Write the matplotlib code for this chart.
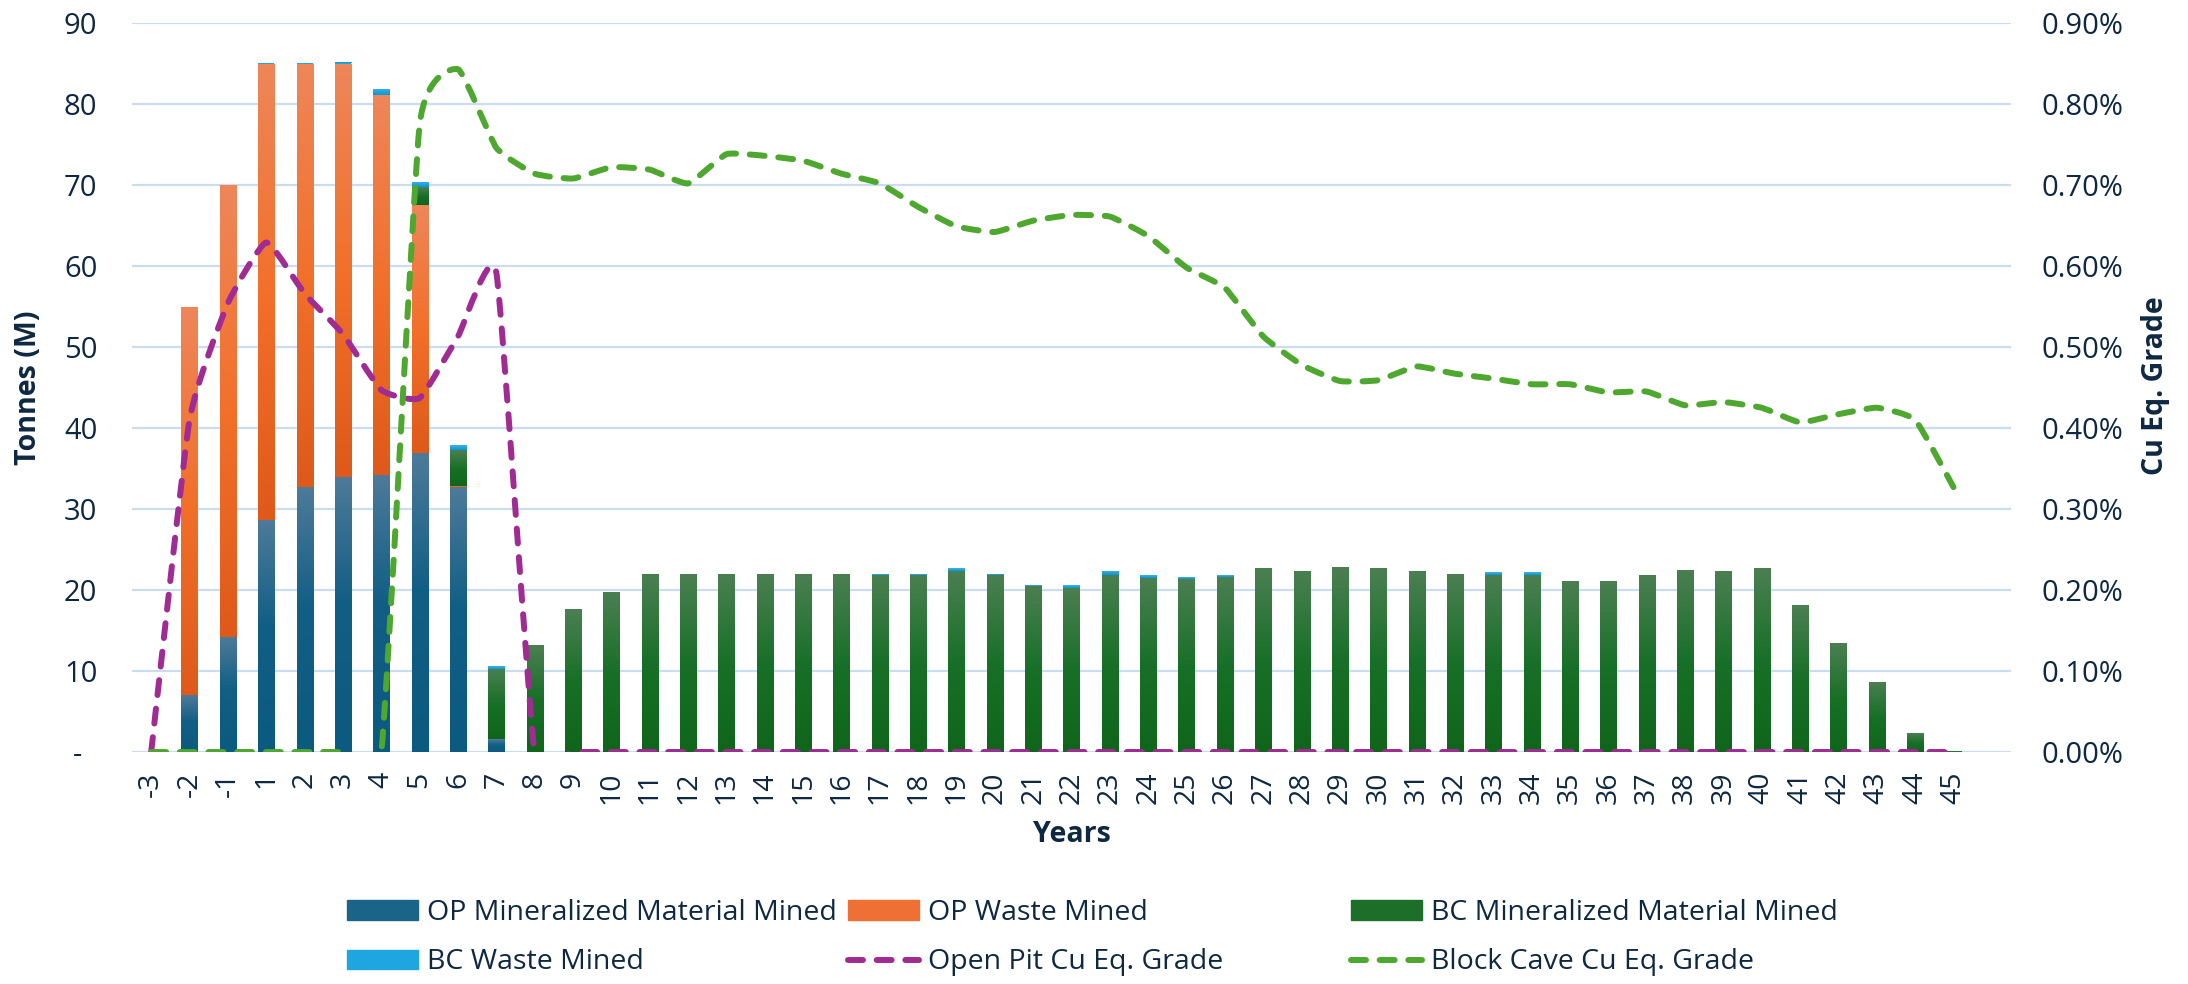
import numpy as np
import matplotlib
matplotlib.use("Agg")
import matplotlib.pyplot as plt
from matplotlib.colors import LinearSegmentedColormap
from matplotlib.path import Path
from matplotlib.patches import PathPatch, Patch
from matplotlib.lines import Line2D

plt.rcParams['font.family'] = ['Open Sans', 'DejaVu Sans']

years = [-3, -2, -1, 1, 2, 3, 4, 5, 6, 7, 8, 9, 10, 11, 12, 13, 14, 15, 16,
         17, 18, 19, 20, 21, 22, 23, 24, 25, 26, 27, 28, 29, 30, 31, 32, 33,
         34, 35, 36, 37, 38, 39, 40, 41, 42, 43, 44, 45]

# tonnes (M)
op_min = [0, 7.0, 14.2, 28.6, 32.7, 34.0, 34.2, 36.9, 32.7, 1.6,
          0, 0, 0, 0, 0, 0, 0, 0, 0, 0,
          0, 0, 0, 0, 0, 0, 0, 0, 0, 0,
          0, 0, 0, 0, 0, 0, 0, 0, 0, 0,
          0, 0, 0, 0, 0, 0, 0, 0]
op_waste = [0, 48.0, 55.8, 56.3, 52.2, 51.0, 46.9, 30.6, 0.2, 0,
            0, 0, 0, 0, 0, 0, 0, 0, 0, 0,
            0, 0, 0, 0, 0, 0, 0, 0, 0, 0,
            0, 0, 0, 0, 0, 0, 0, 0, 0, 0,
            0, 0, 0, 0, 0, 0, 0, 0]
bc_min = [0, 0, 0, 0, 0, 0, 0, 2.2, 4.4, 8.7,
          13.2, 17.6, 19.8, 22.0, 22.0, 22.0, 22.0, 22.0, 22.0, 21.9,
          21.9, 22.4, 21.8, 20.5, 20.3, 21.9, 21.5, 21.4, 21.6, 22.7,
          22.4, 22.8, 22.7, 22.3, 22.0, 21.9, 21.9, 21.1, 21.1, 21.8,
          22.5, 22.3, 22.7, 18.1, 13.4, 8.7, 2.3, 0.1]
bc_waste = [0, 0, 0, 0.1, 0.1, 0.2, 0.8, 0.7, 0.6, 0.3,
            0, 0, 0, 0, 0, 0, 0, 0, 0, 0.1,
            0.1, 0.3, 0.2, 0.1, 0.3, 0.5, 0.3, 0.2, 0.2, 0,
            0, 0, 0, 0, 0, 0.3, 0.3, 0, 0, 0,
            0, 0, 0, 0, 0, 0, 0, 0]

# Cu eq. grade (%)
op_grade = [0, 0.41, 0.554, 0.629, 0.566, 0.516, 0.447, 0.437, 0.513, 0.592,
            0, 0, 0, 0, 0, 0, 0, 0, 0, 0,
            0, 0, 0, 0, 0, 0, 0, 0, 0, 0,
            0, 0, 0, 0, 0, 0, 0, 0, 0, 0,
            0, 0, 0, 0, 0, 0, 0, 0]
bc_grade = [0, 0, 0, 0, 0, 0, 0, 0.774, 0.843, 0.746,
            0.714, 0.708, 0.722, 0.719, 0.702, 0.738, 0.736, 0.730, 0.714, 0.702,
            0.673, 0.649, 0.642, 0.656, 0.663, 0.661, 0.637, 0.598, 0.573, 0.513,
            0.478, 0.458, 0.459, 0.476, 0.467, 0.461, 0.454, 0.454, 0.444, 0.445,
            0.428, 0.432, 0.425, 0.407, 0.417, 0.425, 0.410, 0.327]

TXT = '#0e2841'
GRID = '#c9dcf0'

cmaps = {
    'op_min': LinearSegmentedColormap.from_list('a', [(0, '#0b5a80'), (0.55, '#125f85'), (1, '#4d7a99')]),
    'op_waste': LinearSegmentedColormap.from_list('b', [(0, '#df5a1a'), (0.5, '#f2702a'), (1, '#ee8659')]),
    'bc_min': LinearSegmentedColormap.from_list('c', [(0, '#0f661b'), (0.5, '#187028'), (1, '#4b7f52')]),
    'bc_waste': LinearSegmentedColormap.from_list('d', [(0, '#0896d6'), (1, '#40b3e6')]),
}
solid = {'op_min': '#1a6488', 'op_waste': '#ee7034', 'bc_min': '#1c6e28', 'bc_waste': '#1ea6e0'}


def gradient_bars(ax, bars, cmap):
    grad = np.linspace(0, 1, 64).reshape(-1, 1)
    for p in bars:
        h = p.get_height()
        if h <= 0:
            continue
        x0, y0, w = p.get_x(), p.get_y(), p.get_width()
        im = ax.imshow(grad, extent=(x0, x0 + w, y0, y0 + h), origin='lower',
                       aspect='auto', cmap=cmap, zorder=2, interpolation='bilinear')
        im.set_clip_path(p)


def smooth(xs, ys, k=0.075):
    # bezier through the points, a bit like excel's smoothed line
    pts = np.column_stack([xs, ys]).astype(float)
    n = len(pts)
    verts = [pts[0]]
    codes = [Path.MOVETO]
    for i in range(n - 1):
        p0 = pts[max(i - 1, 0)]
        p1 = pts[i]
        p2 = pts[i + 1]
        p3 = pts[min(i + 2, n - 1)]
        verts += [p1 + (p2 - p0) * k, p2 - (p3 - p1) * k, p2]
        codes += [Path.CURVE4] * 3
    return Path(verts, codes)


fig = plt.figure(figsize=(21.88, 9.84), dpi=100)
ax = fig.add_axes([132 / 2188, 1 - 752 / 984, 1879 / 2188, 729 / 984])
x = np.arange(len(years))
w = 0.42

b1 = ax.bar(x, op_min, w, color=solid['op_min'], zorder=1)
bot = np.array(op_min)
b2 = ax.bar(x, op_waste, w, bottom=bot, color=solid['op_waste'], zorder=1)
bot = bot + np.array(op_waste)
b3 = ax.bar(x, bc_min, w, bottom=bot, color=solid['bc_min'], zorder=1)
bot = bot + np.array(bc_min)
b4 = ax.bar(x, bc_waste, w, bottom=bot, color=solid['bc_waste'], zorder=1)
for bars, key in [(b1, 'op_min'), (b2, 'op_waste'), (b3, 'bc_min'), (b4, 'bc_waste')]:
    gradient_bars(ax, bars, cmaps[key])

ax.set_xlim(-0.5, 48.5)
ax.set_ylim(0, 90)
ax.set_yticks(range(0, 91, 10))
ax.set_yticklabels(['-  '] + [str(v) for v in range(10, 91, 10)])
ax.set_xticks(x)
ax.set_xticklabels([str(y) for y in years], rotation=90)
ax.grid(axis='y', color=GRID, lw=1.6)
ax.set_axisbelow(True)
ax.tick_params(axis='y', length=0, pad=25, labelsize=21, labelcolor=TXT)
ax.tick_params(axis='x', length=0, pad=14, labelsize=20.5, labelcolor=TXT)
for s in ax.spines.values():
    s.set_visible(False)

ax2 = ax.twinx()
ax2.set_ylim(0, 0.9)
ax2.set_yticks(np.arange(0, 0.91, 0.1))
ax2.set_yticklabels([f'{v:.2f}%' for v in np.arange(0, 0.91, 0.1)])
ax2.tick_params(axis='y', length=0, pad=22, labelsize=21, labelcolor=TXT)
for s in ax2.spines.values():
    s.set_visible(False)

lw = 4.3
dash = (0, (2.5, 2.3))
for vals, col in [(op_grade, '#a02b93'), (bc_grade, '#4ea72e')]:
    pp = PathPatch(smooth(x, vals), fill=False, edgecolor=col, lw=lw,
                   linestyle=dash, capstyle='round', zorder=3)
    ax2.add_patch(pp)
ax2.set_xlim(-0.5, 48.5)

fig.text(1072 / 2188, 1 - 835 / 984, 'Years', ha='center', va='center',
         fontsize=20.5, fontweight='bold', color=TXT)
fig.text(29 / 2188, 1 - 388 / 984, 'Tonnes (M)', ha='center', va='center',
         rotation=90, fontsize=20.5, fontweight='bold', color=TXT)
fig.text(2155 / 2188, 1 - 386 / 984, 'Cu Eq. Grade', ha='center', va='center',
         rotation=90, fontsize=20.5, fontweight='bold', color=TXT)

def line_handle(col):
    return Line2D([], [], color=col, lw=lw, linestyle=dash, dash_capstyle='round')

cols = [
    (347, [Patch(color=solid['op_min']), Patch(color=solid['bc_waste'])],
     ['OP Mineralized Material Mined', 'BC Waste Mined']),
    (848, [Patch(color=solid['op_waste']), line_handle('#a02b93')],
     ['OP Waste Mined', 'Open Pit Cu Eq. Grade']),
    (1351, [Patch(color=solid['bc_min']), line_handle('#4ea72e')],
     ['BC Mineralized Material Mined', 'Block Cave Cu Eq. Grade']),
]
for xpx, hs, ls in cols:
    leg = fig.legend(hs, ls, loc='upper left', bbox_to_anchor=(xpx / 2188, 1 - 899 / 984),
                     frameon=False, fontsize=20.5, borderpad=0, borderaxespad=0,
                     handlelength=2.5, handleheight=0.65, handletextpad=0.3,
                     labelspacing=0.75, labelcolor=TXT)

fig.savefig('out.png', dpi=100)
